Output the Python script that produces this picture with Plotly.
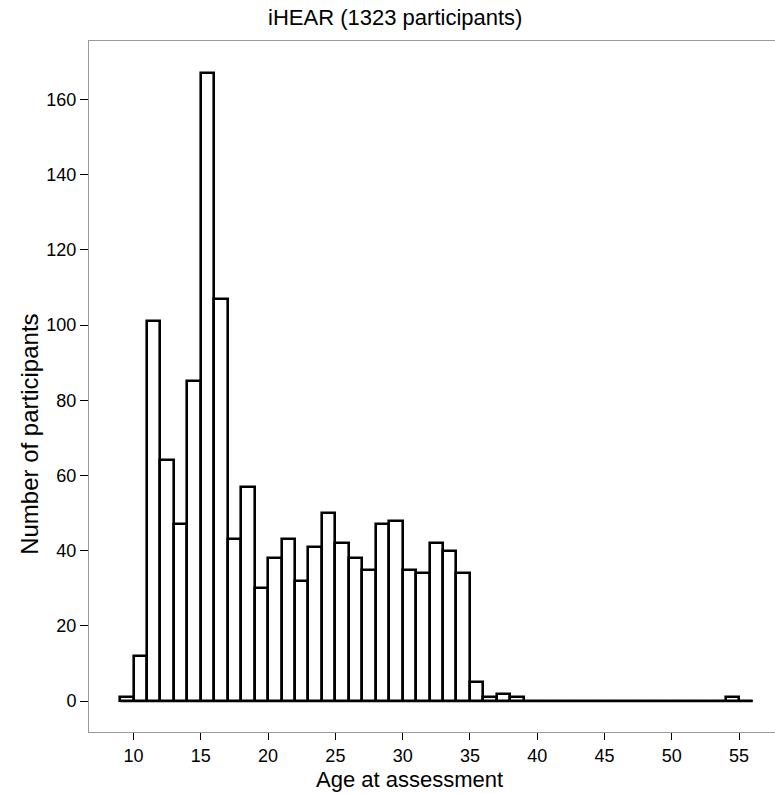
import plotly.graph_objects as go

# Histogram of age at assessment (bins of 1 year, left edges)
bin_left = [9, 10, 11, 12, 13, 14, 15, 16, 17, 18, 19, 20, 21, 22, 23, 24,
            25, 26, 27, 28, 29, 30, 31, 32, 33, 34, 35, 36, 37, 38, 39, 40,
            41, 42, 43, 44, 45, 46, 47, 48, 49, 50, 51, 52, 53, 54, 55]
counts = [1, 12, 101, 64, 47, 85, 167, 107, 43, 57, 30, 38, 43, 32, 41, 50,
          42, 38, 35, 47, 48, 35, 34, 42, 40, 34, 5, 1, 2, 1, 0, 0,
          0, 0, 0, 0, 0, 0, 0, 0, 0, 0, 0, 0, 0, 1, 0]
bin_width = 1
x_ticks = [10, 15, 20, 25, 30, 35, 40, 45, 50, 55]
y_ticks = [0, 20, 40, 60, 80, 100, 120, 140, 160]
title_text = "iHEAR (1323 participants)"
x_title = "Age at assessment"
y_title = "Number of participants"

centers = [b + bin_width / 2 for b in bin_left]
FONT = "Liberation Sans, Arial, sans-serif"

fig = go.Figure()
# baseline for empty bins
fig.add_trace(go.Scatter(
    x=[bin_left[0], bin_left[-1] + bin_width], y=[0, 0],
    mode="lines", line=dict(color="black", width=2.4), hoverinfo="skip",
    showlegend=False))
fig.add_trace(go.Bar(
    x=centers, y=counts, width=bin_width,
    marker=dict(color="white", line=dict(color="black", width=2.6)),
    showlegend=False))

fig.update_layout(
    width=775, height=794,
    margin=dict(l=89, r=0, t=41, b=62),
    paper_bgcolor="white", plot_bgcolor="white",
    font=dict(family=FONT, color="black"),
    title=dict(text=title_text, x=0.51, xanchor="center", y=0.978, yanchor="middle",
               font=dict(size=22, family=FONT, color="black")),
    bargap=0,
    annotations=[
        dict(text=x_title, xref="paper", yref="paper", x=0.467, y=0,
             xanchor="center", yanchor="middle", yshift=-47, showarrow=False,
             font=dict(size=22, family=FONT, color="black")),
        dict(text=y_title, xref="paper", yref="paper", x=0, y=0.43,
             xanchor="center", yanchor="middle", xshift=-59, textangle=-90,
             showarrow=False, font=dict(size=24, family=FONT, color="black")),
    ],
)
fig.update_xaxes(
    range=[6.69, 57.67], tickvals=x_ticks, ticks="outside", ticklen=7,
    tickcolor="black", tickwidth=1, showgrid=False, zeroline=False,
    showline=True, linecolor="#9a9a9a", linewidth=1, mirror=True,
    tickfont=dict(size=18, family=FONT, color="black"),
)
fig.update_yaxes(
    range=[-8.2, 175.5], tickvals=y_ticks, ticks="outside", ticklen=8,
    tickcolor="black", tickwidth=1, showgrid=False, zeroline=False,
    showline=True, linecolor="#9a9a9a", linewidth=1,
    tickfont=dict(size=18, family=FONT, color="black"),
)

fig.write_html("out.html")
